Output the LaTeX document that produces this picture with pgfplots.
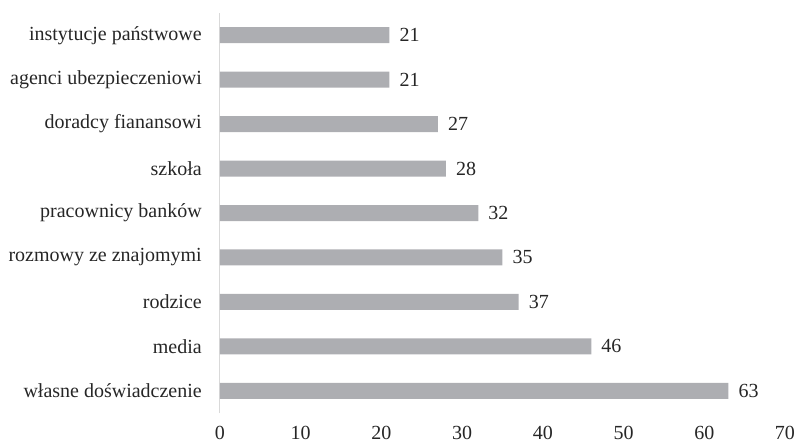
\documentclass[border=0pt]{standalone}
\usepackage{pgfplots}
\pgfplotsset{compat=1.18}
\usepackage{fontspec}
\setmainfont{Liberation Serif}
\definecolor{bargray}{RGB}{173,174,178}
\definecolor{axgray}{RGB}{217,217,217}
\definecolor{txt}{RGB}{38,38,38}
\begin{document}
\fontsize{20}{24}\selectfont
\begin{tikzpicture}
\begin{axis}[
  at={(0,0)}, anchor=south west,
  scale only axis,
  width=565pt, height=400pt,
  xbar, bar width=16pt,
  xmin=0, xmax=70,
  ymin=-0.5, ymax=8.5,
  xtick={0,10,...,70},
  ytick={0,...,8},
  yticklabels={własne doświadczenie,media,rodzice,rozmowy ze znajomymi,pracownicy banków,szkoła,doradcy fianansowi,agenci ubezpieczeniowi,instytucje państwowe},
  axis y line*=left, axis x line*=bottom,
  x axis line style={draw=none},
  y axis line style={draw=axgray, line width=1pt},
  major tick length=0pt,
  tick style={draw=none},
  /pgf/number format/assume math mode=true,
  ticklabel style={font=\fontsize{20}{24}\selectfont, text=txt},
  xticklabel style={inner sep=0pt, anchor=north, yshift=-13pt},
  yticklabel style={inner sep=0pt, anchor=east, xshift=-18pt},
  nodes near coords,
  nodes near coords style={font=\fontsize{20}{24}\selectfont, text=txt, anchor=west, inner sep=0pt, xshift=10pt},
  clip=false,
]
\addplot[fill=bargray, draw=none] coordinates {
 (63,0) (46,1) (37,2) (35,3) (32,4) (28,5) (27,6) (21,7) (21,8)
};
\end{axis}
\pgfresetboundingbox
\path[use as bounding box] (-220pt,-32pt) rectangle (575pt,413pt);
\end{tikzpicture}
\end{document}
